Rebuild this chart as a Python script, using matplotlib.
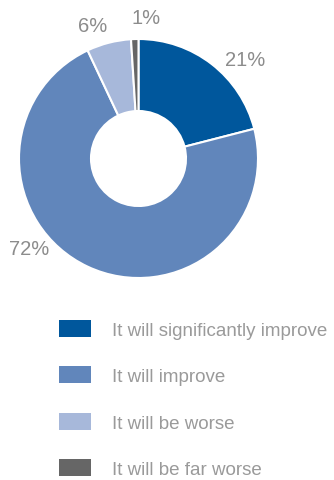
import matplotlib.pyplot as plt

# data
labels = ['It will significantly improve', 'It will improve',
          'It will be worse', 'It will be far worse']
values = [21, 72, 6, 1]
pct_text = ['21%', '72%', '6%', '1%']
colors = ['#00579c', '#6186bb', '#a7b8da', '#666666']

plt.rcParams['font.family'] = ['Liberation Sans', 'DejaVu Sans']

W, H = 334, 481
fig = plt.figure(figsize=(W / 100, H / 100), dpi=100)

cx, cy, R, r_in = 138.5, 159.5, 119.5, 47.5
ax = fig.add_axes([(cx - R) / W, 1 - (cy + R) / H, 2 * R / W, 2 * R / H])
wedges, _ = ax.pie(values, colors=colors, startangle=90, counterclock=False,
                   radius=1, wedgeprops=dict(width=1 - r_in / R,
                                             edgecolor='white', linewidth=1.5))
ax.set_xlim(-1, 1)
ax.set_ylim(-1, 1)
ax.set_aspect('equal')
ax.axis('off')

# percent labels (pixel positions of label centers)
lab_pos = [(245, 60), (29, 250), (93, 27), (146, 18)]
for t, (px, py) in zip(pct_text, lab_pos):
    fig.text(px / W, 1 - py / H, t, ha='center', va='center',
             fontsize=14.5, color='#8c8c8c')

leg = fig.legend(wedges, labels, loc='upper left',
                 bbox_to_anchor=(59 / W, 1 - 321 / H), frameon=False,
                 fontsize=13.5, handlelength=1.7, handleheight=1.0,
                 handletextpad=1.14, labelspacing=1.47, borderpad=0,
                 borderaxespad=0)
for t in leg.get_texts():
    t.set_color('#9a9a9a')
for h in leg.legend_handles:
    h.set_edgecolor('none')

fig.savefig('out.png', dpi=100)
